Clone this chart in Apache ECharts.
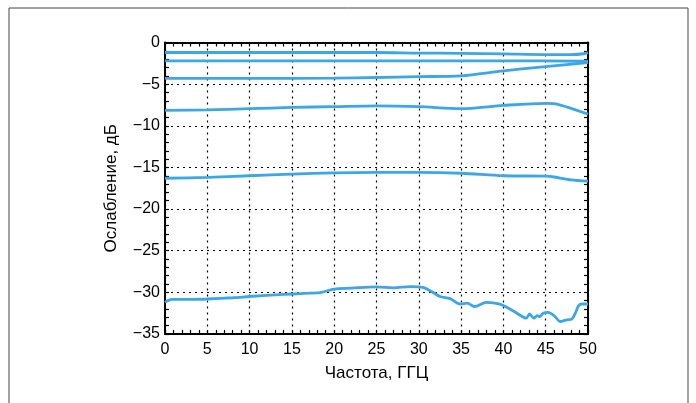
<!DOCTYPE html>
<html>
<head>
<meta charset="utf-8">
<script src="https://cdn.jsdelivr.net/npm/echarts@6/dist/echarts.min.js"></script>
<style>html,body{margin:0;padding:0;background:#fff}#c{width:696px;height:403px}</style>
</head>
<body>
<div id="c"></div>
<script>
const xTicks = [0,5,10,15,20,25,30,35,40,45,50];
const yTickLabels = {"0":"0","-5":"\u22125","-10":"\u221210","-15":"\u221215","-20":"\u221220","-25":"\u221225","-30":"\u221230","-35":"\u221235"};
const xName = "Частота, ГГЦ";
const yName = "Ослабление, дБ";

const c1x = [0, 10, 20, 25, 30, 35, 40, 45, 48, 49.5, 50];
const c1y = [-1.2, -1.2, -1.2, -1.2, -1.27, -1.3, -1.37, -1.45, -1.45, -1.35, -1.2];

const c2x = [0, 10, 20, 30, 40, 50];
const c2y = [-2.2, -2.2, -2.2, -2.2, -2.2, -2.25];

const c3x = [0, 10, 20, 25, 30, 35, 40, 45, 50];
const c3y = [-4.3, -4.3, -4.28, -4.2, -4.1, -4.0, -3.4, -2.9, -2.4];

const c4x = [0, 5, 10, 15, 20, 25, 30, 35, 40, 45, 46, 48, 50];
const c4y = [-8.15, -8.1, -7.95, -7.8, -7.7, -7.6, -7.7, -7.95, -7.55, -7.3, -7.35, -7.9, -8.6];

const c5x = [0, 5, 10, 15, 20, 25, 30, 35, 40, 45, 46, 48, 50];
const c5y = [-16.3, -16.2, -16.0, -15.8, -15.65, -15.6, -15.6, -15.7, -16.0, -16.05, -16.15, -16.5, -16.65];

const c6x = [0, 0.8, 3, 5, 8, 10, 13, 15, 17, 18.5, 20, 22, 25, 27, 29, 30.5, 31.5, 32.5, 33.7, 34.9, 35.7, 36.6, 38.0, 39.6, 40.4, 41.6, 42.7, 43.1, 43.6, 44.0, 44.3, 44.7, 45.3, 46.1, 46.7, 47.5, 48.1, 48.5, 48.9, 49.3, 50];
const c6y = [-31.2, -30.85, -30.85, -30.8, -30.65, -30.5, -30.3, -30.2, -30.1, -30.0, -29.6, -29.5, -29.35, -29.45, -29.3, -29.4, -29.9, -30.5, -30.75, -31.4, -31.3, -31.7, -31.2, -31.4, -31.8, -32.5, -33.1, -32.6, -33.1, -32.8, -32.9, -32.5, -32.4, -32.9, -33.5, -33.3, -33.2, -32.5, -31.6, -31.4, -31.4];

const curves = [[c1x,c1y],[c2x,c2y],[c3x,c3y],[c4x,c4y],[c5x,c5y],[c6x,c6y]];
const lineColor = '#3BA7E6';
const font = 'Liberation Sans, Arial, sans-serif';

const chart = echarts.init(document.getElementById('c'), null, {renderer:'canvas'});

const gridLine = {show:true, lineStyle:{color:'#000', type:[2,4], width:1.2}};
const axisLineStyle = {show:true, onZero:false, lineStyle:{color:'#000', width:2}};

chart.setOption({
  animation:false,
  backgroundColor:'#fff',
  graphic:[{type:'rect', shape:{x:9, y:8, width:679, height:410}, style:{fill:'none', stroke:'#444', lineWidth:1}, silent:true, z:-10}],
  grid:{left:165, right:108, top:42.5, bottom:69},
  xAxis:[{
    type:'value', min:xTicks[0], max:xTicks[xTicks.length-1], interval:5, position:'bottom',
    name:xName, nameLocation:'middle', nameGap:31,
    nameTextStyle:{fontFamily:font, fontSize:17, color:'#000'},
    axisLine:axisLineStyle,
    axisTick:{show:true, inside:true, length:4, lineStyle:{color:'#000', width:1.2}},
    minorTick:{show:true, splitNumber:5, length:4, lineStyle:{color:'#000', width:1.2}},
    axisLabel:{fontFamily:font, fontSize:16, color:'#000', margin:8},
    splitLine:gridLine
  },{
    type:'value', min:xTicks[0], max:xTicks[xTicks.length-1], interval:5, position:'top',
    axisLine:axisLineStyle,
    axisTick:{show:true, inside:true, length:4, lineStyle:{color:'#000', width:1.2}},
    minorTick:{show:true, splitNumber:5, length:4, lineStyle:{color:'#000', width:1.2}},
    axisLabel:{show:false}, splitLine:{show:false}
  }],
  yAxis:[{
    type:'value', min:-35, max:0, interval:5, position:'left',
    name:yName, nameLocation:'middle', nameGap:45, nameRotate:90,
    nameTextStyle:{fontFamily:font, fontSize:17, color:'#000'},
    axisLine:axisLineStyle,
    axisTick:{show:true, inside:true, length:4, lineStyle:{color:'#000', width:1.2}},
    minorTick:{show:true, splitNumber:5, length:4, lineStyle:{color:'#000', width:1.2}},
    axisLabel:{fontFamily:font, fontSize:16, color:'#000', margin:5, formatter:v=>yTickLabels[String(v)]},
    splitLine:gridLine
  },{
    type:'value', min:-35, max:0, interval:5, position:'right',
    axisLine:axisLineStyle,
    axisTick:{show:true, inside:true, length:4, lineStyle:{color:'#000', width:1.2}},
    minorTick:{show:true, splitNumber:5, length:4, lineStyle:{color:'#000', width:1.2}},
    axisLabel:{show:false}, splitLine:{show:false}
  }],
  series: curves.map(([xs,ys]) => ({
    type:'line', xAxisIndex:0, yAxisIndex:0, smooth:0.3, showSymbol:false,
    data: xs.map((x,i)=>[x, ys[i]]),
    lineStyle:{color:lineColor, width:2.8}, z:5
  }))
});
</script>
</body>
</html>
